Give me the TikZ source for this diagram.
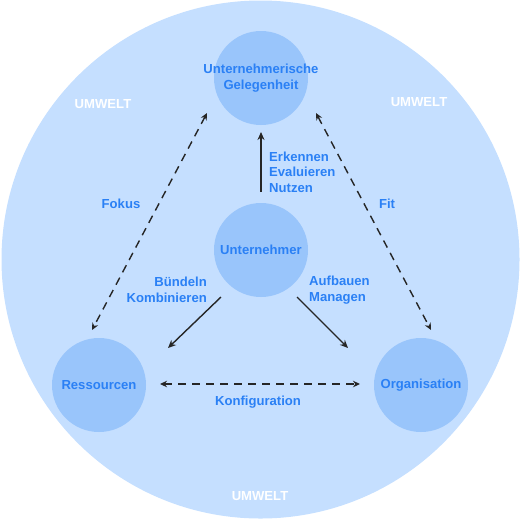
\documentclass[tikz,border=0pt]{standalone}
\usepackage{fontspec}
\setmainfont{Liberation Sans}
\usetikzlibrary{arrows.meta}
\definecolor{bigc}{HTML}{C5DFFF}
\definecolor{smallc}{HTML}{99C5FB}
\definecolor{txtc}{HTML}{2A80F5}
\tikzset{
  smallcirc/.style={circle, fill=smallc, minimum size=94pt, inner sep=0pt},
  ctext/.style={text=txtc, font=\fontsize{13.1}{16}\selectfont\bfseries, align=center, inner sep=0pt},
  lbl/.style={text=txtc, font=\fontsize{13.1}{15.5}\selectfont\bfseries, inner sep=0pt},
  umw/.style={text=white, font=\fontsize{13.1}{14}\selectfont\bfseries, inner sep=0pt},
  solidarr/.style={draw=black!85, line width=1.4pt, -{Stealth[length=8pt,width=7pt]}},
  dasharr/.style={draw=black!85, line width=1.4pt, dash pattern=on 8pt off 6pt, {Stealth[length=7pt,width=6.5pt]}-{Stealth[length=7pt,width=6.5pt]}}
}
\begin{document}
\begin{tikzpicture}[x=1pt,y=-1pt]
\useasboundingbox (0,0) rectangle (521,520);
\fill[bigc] (260.5,259.5) circle (259);
\node[smallcirc] (opp) at (261,78) {};
\node[smallcirc] (ent) at (261,250) {};
\node[smallcirc] (res) at (99,385) {};
\node[smallcirc] (org) at (421,385) {};
\node[ctext] (topp) at (opp.center) {Unternehmerische\\Gelegenheit};
\node[ctext] (tent) at (ent.center) {Unternehmer};
\node[ctext] (tres) at (res.center) {Ressourcen};
\node[ctext] (torg) at (org.center) {Organisation};
\node[umw] (u1) at (103,104) {UMWELT};
\node[umw] (u2) at (419,102) {UMWELT};
\node[umw] (u3) at (260,496) {UMWELT};
% connector endpoints
\coordinate (e1) at (261,192);
\coordinate (e2) at (261,132);
\coordinate (b1) at (221,297);
\coordinate (b2) at (168,348);
\coordinate (a1) at (297,297);
\coordinate (a2) at (348,348);
\coordinate (f1) at (207,113);
\coordinate (f2) at (92,330);
\coordinate (t1) at (316,113);
\coordinate (t2) at (431,330);
\coordinate (k1) at (160,384);
\coordinate (k2) at (360,384);
\draw[solidarr] (e1) -- (e2);
\draw[solidarr] (b1) -- (b2);
\draw[solidarr] (a1) -- (a2);
\draw[dasharr] (f1) -- (f2);
\draw[dasharr] (t1) -- (t2);
\draw[dasharr] (k1) -- (k2);
\node[lbl, anchor=west, align=left] (lerk) at (269,172) {Erkennen\\Evaluieren\\Nutzen};
\node[lbl, anchor=east, align=right] (lbue) at (207,290) {Bündeln\\Kombinieren};
\node[lbl, anchor=west, align=left] (lauf) at (309,290) {Aufbauen\\Managen};
\node[lbl] (lfok) at (121,204) {Fokus};
\node[lbl] (lfit) at (387,204) {Fit};
\node[lbl] (lkon) at (258,402) {Konfiguration};
\end{tikzpicture}
\end{document}
